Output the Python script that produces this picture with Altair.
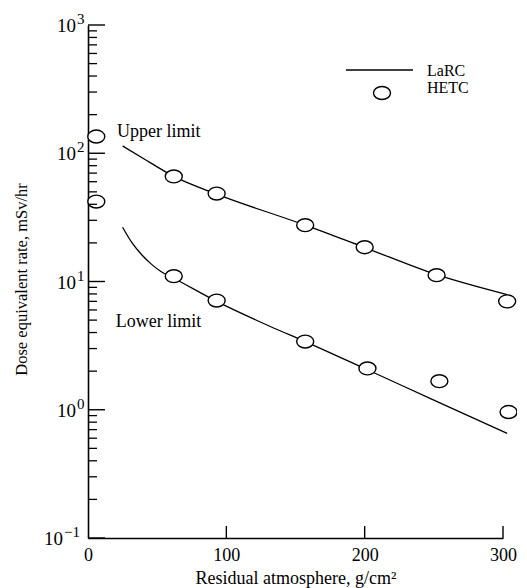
import altair as alt
import pandas as pd

SERIF = "Liberation Serif"
W, H = 415, 513

# LaRC calculations (solid curves)
larc_upper_x = [25, 40, 62, 93, 157, 200, 252, 303]
larc_upper_y = [114, 91, 66, 48, 27.5, 18.4, 11.3, 7.9]
larc_lower_x = [25, 32, 39, 46, 53, 62, 93, 131, 157, 202, 250, 303]
larc_lower_y = [26.5, 19.9, 16.1, 13.6, 11.9, 10.6, 7.0, 4.5, 3.4, 2.05, 1.19, 0.655]

# HETC calculations (open circles)
hetc_upper_x = [6, 62, 93, 157, 200, 252, 303]
hetc_upper_y = [135, 66, 48.5, 27.5, 18.5, 11.2, 7.0]
hetc_lower_x = [6, 62, 93, 157, 202, 254, 304]
hetc_lower_y = [42, 11.0, 7.1, 3.4, 2.1, 1.67, 0.96]

# curve labels
label_text = ["Upper limit", "Lower limit"]
label_x = [21, 20]
label_y = [147, 4.8]

# axes
decades = [0.1, 1, 10, 100, 1000]
exponents = ["\u22121", "0", "1", "2", "3"]
minor_ticks = [m * d for d in decades[:-1] for m in range(2, 10)]
x_ticks = [100, 200, 300]

ELLIPSE = "M -1 0 A 1 0.76 0 1 0 1 0 A 1 0.76 0 1 0 -1 0 Z"

xs = alt.Scale(domain=[0, 300], nice=False, zero=False)
ys = alt.Scale(type="log", domain=[0.1, 1000], nice=False)

XAXIS = alt.Axis(
    values=[0, 100, 200, 300], ticks=False, grid=False,
    domainColor="black", domainWidth=1.6,
    labelFont=SERIF, labelFontSize=18, labelColor="black", labelPadding=8,
    labelFlush=False,
    title="Residual atmosphere, g/cm\u00b2", titleFont=SERIF, titleFontSize=18,
    titleFontWeight="normal", titleColor="black", titleY=45,
    titleBaseline="alphabetic",
)
YAXIS = alt.Axis(
    values=decades, labels=False, ticks=False, grid=False,
    domainColor="black", domainWidth=1.6,
    title="Dose equivalent rate, mSv/hr", titleFont=SERIF, titleFontSize=16.5,
    titleFontWeight="normal", titleColor="black", titleX=-67, titleY=254,
    titleAngle=270, titleAlign="center", titleBaseline="middle",
)


def xe(field):
    return alt.X(field, type="quantitative", scale=xs, axis=XAXIS)


def ye(field):
    return alt.Y(field, type="quantitative", scale=ys, axis=YAXIS)


lines_df = pd.concat([
    pd.DataFrame({"x": larc_upper_x, "y": larc_upper_y, "s": "upper"}),
    pd.DataFrame({"x": larc_lower_x, "y": larc_lower_y, "s": "lower"}),
])
pts_df = pd.concat([
    pd.DataFrame({"x": hetc_upper_x, "y": hetc_upper_y, "s": "upper"}),
    pd.DataFrame({"x": hetc_lower_x, "y": hetc_lower_y, "s": "lower"}),
])
lab_df = pd.DataFrame({"t": label_text, "x": label_x, "y": label_y})
dec_df = pd.DataFrame({"y": decades, "e": exponents})

lines = alt.Chart(lines_df).mark_line(
    color="black", strokeWidth=1.3, interpolate="monotone"
).encode(x=xe("x"), y=ye("y"), detail="s:N")

points = alt.Chart(pts_df).mark_point(
    shape=ELLIPSE, size=289, filled=True, fill="white", stroke="black",
    strokeWidth=1.4, opacity=1,
).encode(x=xe("x"), y=ye("y"))

labels = alt.Chart(lab_df).mark_text(
    align="left", baseline="middle", font=SERIF, fontSize=18, color="black"
).encode(x=xe("x"), y=ye("y"), text="t:N")

major = alt.Chart(dec_df).mark_rule(color="black", strokeWidth=1.4).encode(
    y=ye("y"), x=alt.value(0), x2=alt.value(17)
)
minor = alt.Chart(pd.DataFrame({"y": minor_ticks})).mark_rule(
    color="black", strokeWidth=1.3
).encode(y=ye("y"), x=alt.value(0), x2=alt.value(9))
xtick = alt.Chart(pd.DataFrame({"x": x_ticks})).mark_rule(
    color="black", strokeWidth=1.4
).encode(x=xe("x"), y=alt.value(H), y2=alt.value(H - 12))


def ylab(test, base_x, exp_x):
    base = alt.Chart(dec_df).transform_filter(test).mark_text(
        align="right", baseline="middle", dy=1, font=SERIF, fontSize=19, color="black"
    ).encode(y=ye("y"), x=alt.value(base_x), text=alt.value("10"))
    exp = alt.Chart(dec_df).transform_filter(test).mark_text(
        align="left", baseline="middle", dy=-6, font=SERIF, fontSize=15, color="black"
    ).encode(y=ye("y"), x=alt.value(exp_x), text="e:N")
    return base + exp


ylabels = ylab("length(datum.e) == 1", -12, -11) + ylab("length(datum.e) > 1", -25, -24)

# legend
one = pd.DataFrame({"k": [0]})
leg_line = alt.Chart(one).mark_rule(color="black", strokeWidth=1.3).encode(
    x=alt.value(258), x2=alt.value(325), y=alt.value(45)
)
leg_pt = alt.Chart(one).mark_point(
    shape=ELLIPSE, size=289, filled=True, fill="white", stroke="black",
    strokeWidth=1.4, opacity=1,
).encode(x=alt.value(294), y=alt.value(68))
leg_larc = alt.Chart(one).mark_text(
    align="left", baseline="middle", font=SERIF, fontSize=16, color="black"
).encode(x=alt.value(339), y=alt.value(45.5), text=alt.value("LaRC"))
leg_hetc = alt.Chart(one).mark_text(
    align="left", baseline="middle", font=SERIF, fontSize=16, color="black"
).encode(x=alt.value(339), y=alt.value(63), text=alt.value("HETC"))

chart = alt.layer(
    lines, points, labels, major, minor, xtick, ylabels,
    leg_line, leg_pt, leg_larc, leg_hetc,
).properties(
    width=W, height=H,
    autosize=alt.AutoSizeParams(type="none"),
    padding={"left": 80, "top": 17, "right": 14, "bottom": 50},
).configure_view(strokeWidth=0)

chart.save("out.html", embed_options={"renderer": "svg", "actions": False})
